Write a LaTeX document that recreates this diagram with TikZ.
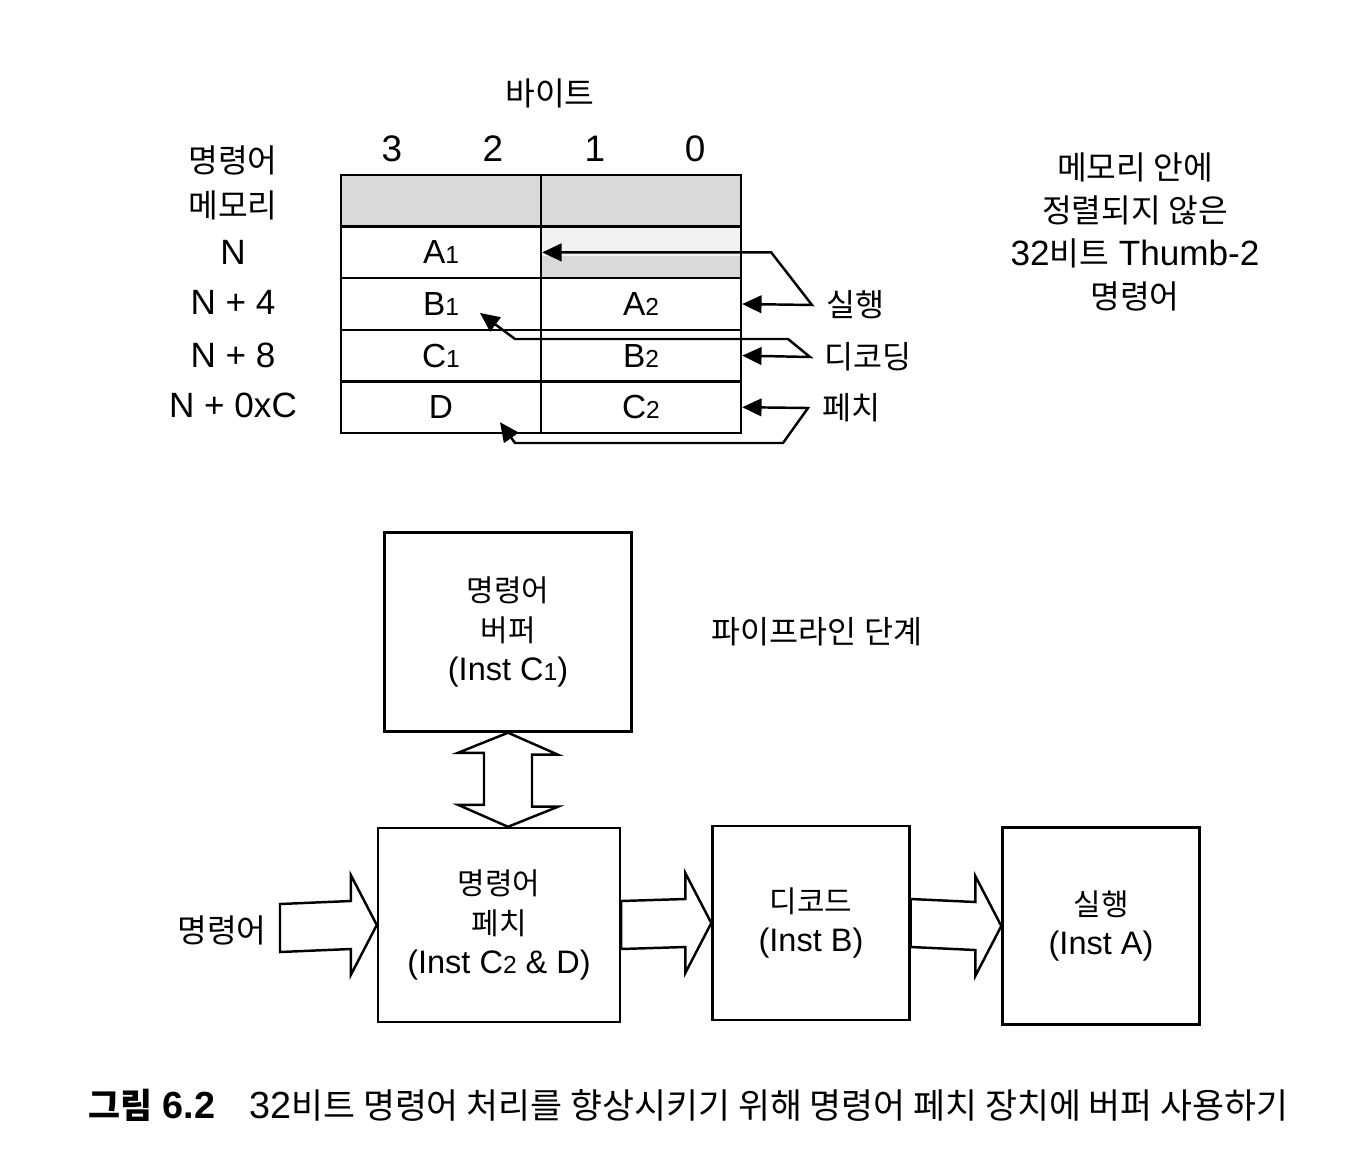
\documentclass[tikz,border=0pt]{standalone}
\usepackage{fontspec}
\setmainfont{Liberation Sans}
\newfontfamily\krfont[Scale=0.92]{Noto Sans CJK KR}
\usetikzlibrary{arrows.meta,calc}

\newcommand\kr[1]{{\krfont #1}}
\newcommand\sbd[2]{#1{\fontsize{14}{14}\selectfont #2}}

\tikzset{
  txt/.style={font=\fontsize{20}{24.4}\selectfont, inner sep=0pt, align=center},
  cell/.style={draw, line width=1.4pt, minimum width=4cm, minimum height=1.032cm,
    inner sep=0pt, font=\fontsize{19}{20}\selectfont},
  shade/.style={fill=gray!30},
  ptr/.style={line width=1.4pt, line join=miter,
    {Triangle[length=11pt,width=10pt]}-{Triangle[length=11pt,width=10pt]}},
  stage/.style={draw, line width=1.4pt, align=center, inner sep=0pt,
    font=\fontsize{18.5}{22.7}\selectfont},
  blk/.style={draw, line width=1.4pt, fill=white, line join=miter}
}

\begin{document}
\begin{tikzpicture}[x=0.02cm, y=-0.02cm]
\useasboundingbox (0,0) rectangle (1348,1162);

% memory table
\fill[shade] (341,175) rectangle (741,226.6);
\fill[gray!10] (541,226.6) rectangle (741,256);
\fill[shade] (541,256) rectangle (741,278.2);
\node[cell] (prev32) at (441,200.8) {};
\node[cell] (prev10) at (641,200.8) {};
\node[cell] (a1) at (441,252.4) {\sbd{A}{1}};
\node[cell] (nrest) at (641,252.4) {};
\node[cell] (b1) at (441,304) {\sbd{B}{1}};
\node[cell] (a2) at (641,304) {\sbd{A}{2}};
\node[cell] (c1) at (441,355.6) {\sbd{C}{1}};
\node[cell] (b2) at (641,355.6) {\sbd{B}{2}};
\node[cell] (d) at (441,407.2) {D};
\node[cell] (c2) at (641,407.2) {\sbd{C}{2}};

% headings
\node[txt] (bytes) at (550,93) {\kr{바이트}};
\foreach \b/\x in {3/392,2/493,1/595,0/695}
  \node[txt, font=\fontsize{21}{22}\selectfont] (byte\b) at (\x,149) {\b};
\node[txt, font=\fontsize{20}{25.5}\selectfont] (memhead) at (233,183) {\kr{명령어}\\\kr{메모리}};
\foreach \n/\t/\y in {n/N/252,n4/N + 4/302,n8/N + 8/355,nc/N + 0xC/405}
  \node[txt] (addr\n) at (233,\y) {\t};
\node[txt] (unaligned) at (1135,232) {\kr{메모리 안에}\\\kr{정렬되지 않은}\\32\kr{비트} Thumb-2\\\kr{명령어}};

% pipeline pointers
\node[txt, font=\fontsize{19.5}{22}\selectfont] (exlbl) at (855,305) {\kr{실행}};
\node[txt, font=\fontsize{19.5}{22}\selectfont] (declbl) at (868,357) {\kr{디코딩}};
\node[txt, font=\fontsize{19.5}{22}\selectfont] (fetlbl) at (851,408) {\kr{페치}};
\coordinate (b1tip) at ($(b1)+(39,9)$);
\coordinate (dtip) at ($(d)+(59,15)$);
\draw[ptr] (a1.east) -- ++(229,0) -- (812,305) -- (a2.east);
\draw[ptr] (b1tip) -- (515,339) -- (788,339) -- (810,357) -- (b2.east);
\draw[ptr] (dtip) -- (515,443) -- (783,443) -- (808,408) -- (c2.east);

% pipeline stages
\node[txt, font=\fontsize{19.5}{22}\selectfont] (stages) at (817,632) {\kr{파이프라인 단계}};
\node[stage, minimum width=4.94cm, minimum height=3.98cm] (buffer) at (508,632) {\kr{명령어}\\\kr{버퍼}\\(Inst \sbd{C}{1})};
\node[stage, minimum width=4.84cm, minimum height=3.88cm] (fetch) at (499,925) {\kr{명령어}\\\kr{페치}\\(Inst \sbd{C}{2} \& D)};
\node[stage, minimum width=3.94cm, minimum height=3.88cm] (decode) at (811,923) {\kr{디코드}\\(Inst B)};
\node[stage, minimum width=3.94cm, minimum height=3.94cm] (execute) at (1101,926) {\kr{실행}\\(Inst A)};
\node[txt] (inlbl) at (222,930) {\kr{명령어}};
\coordinate (intail) at (280,928);

% block arrows
\draw[blk] ($(intail)+(0,-24)$) -- ($(fetch.west)+(-26,-24)$) -- ($(fetch.west)+(-26,-50)$)
  -- (fetch.west) -- ($(fetch.west)+(-26,50)$) -- ($(fetch.west)+(-26,24)$) -- ($(intail)+(0,24)$) -- cycle;
\draw[blk] ($(fetch.east)+(0,-24)$) -- ($(decode.west)+(-26,-24)$) -- ($(decode.west)+(-26,-50)$)
  -- (decode.west) -- ($(decode.west)+(-26,50)$) -- ($(decode.west)+(-26,24)$) -- ($(fetch.east)+(0,24)$) -- cycle;
\draw[blk] ($(decode.east)+(0,-24)$) -- ($(execute.west)+(-26,-24)$) -- ($(execute.west)+(-26,-50)$)
  -- (execute.west) -- ($(execute.west)+(-26,50)$) -- ($(execute.west)+(-26,24)$) -- ($(decode.east)+(0,24)$) -- cycle;
\draw[blk] (buffer.south) -- ++(50,22) -- ++(-26,0) -- ++(0,52) -- ++(26,0)
  -- (buffer.south |- fetch.north) -- ++(-50,-22) -- ++(26,0) -- ++(0,-52) -- ++(-26,0) -- cycle;

% caption
\node[inner sep=0pt, anchor=west, font=\fontsize{21.5}{24}\selectfont] (caption) at (88,1105)
  {\textbf{\kr{그림} 6.2}\hspace{0.9em}32\kr{비트 명령어 처리를 향상시키기 위해 명령어 페치 장치에 버퍼 사용하기}};
\end{tikzpicture}
\end{document}
